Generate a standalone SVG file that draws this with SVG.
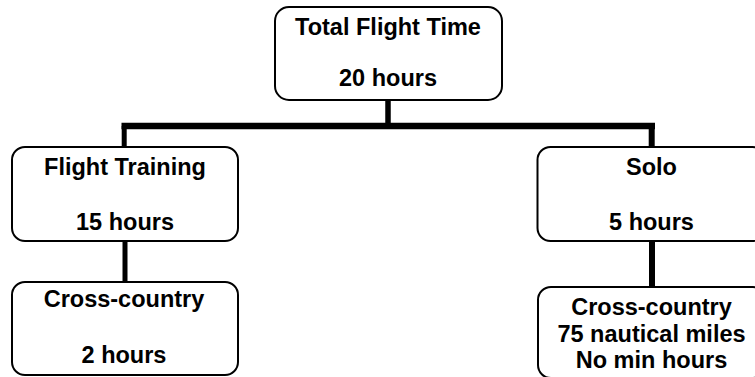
<svg xmlns="http://www.w3.org/2000/svg" width="755" height="377" viewBox="0 0 755 377">
<style>
.box{fill:#fff;stroke:#000;stroke-width:2}
.t{font-family:"Liberation Sans",Arial,sans-serif;font-weight:bold;font-size:23.5px;fill:#000;text-anchor:middle}
.c{stroke:#000;fill:none;stroke-linecap:butt}
</style>
<rect width="755" height="377" fill="#fff"/>
<g id="connectors">
<line class="c" x1="121.5" y1="126" x2="655" y2="126" stroke-width="6.5"/>
<line class="c" x1="388" y1="100" x2="388" y2="126" stroke-width="5.5"/>
<line class="c" x1="124.2" y1="126" x2="124.2" y2="147" stroke-width="5"/>
<line class="c" x1="651.7" y1="126" x2="651.7" y2="147" stroke-width="6"/>
<line class="c" x1="125" y1="241" x2="125" y2="282" stroke-width="5"/>
<line class="c" x1="652" y1="241" x2="652" y2="287" stroke-width="6"/>
</g>
<g id="total">
<rect class="box" x="275" y="7" width="227" height="93" rx="14"/>
<text class="t" x="388" y="35">Total Flight Time</text>
<text class="t" x="388" y="86">20 hours</text>
</g>
<g id="training">
<rect class="box" x="12" y="147" width="226" height="94" rx="13"/>
<text class="t" x="125" y="175">Flight Training</text>
<text class="t" x="125" y="230">15 hours</text>
</g>
<g id="solo">
<rect class="box" x="537.5" y="147" width="228" height="94" rx="13"/>
<text class="t" x="651.5" y="175">Solo</text>
<text class="t" x="651.5" y="230">5 hours</text>
</g>
<g id="training-xc">
<rect class="box" x="12" y="282" width="226" height="93" rx="13"/>
<text class="t" x="124" y="306.5">Cross-country</text>
<text class="t" x="124" y="363">2 hours</text>
</g>
<g id="solo-xc">
<rect class="box" x="538" y="287" width="228" height="91" rx="13"/>
<text class="t" x="651.5" y="315">Cross-country</text>
<text class="t" x="651.5" y="341.5">75 nautical miles</text>
<text class="t" x="651.5" y="368">No min hours</text>
</g>
</svg>
